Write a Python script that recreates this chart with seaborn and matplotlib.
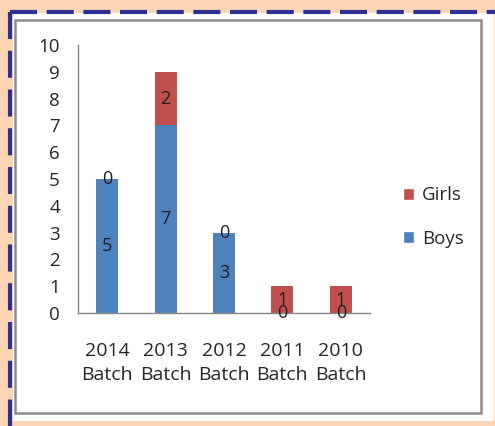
import pandas as pd
import matplotlib
matplotlib.use("Agg")
import matplotlib.pyplot as plt
from matplotlib.lines import Line2D
from matplotlib.patches import Rectangle, Patch
import seaborn as sns

batches = ["2014\nBatch", "2013\nBatch", "2012\nBatch", "2011\nBatch", "2010\nBatch"]
boys = [5, 7, 3, 0, 0]
girls = [0, 2, 0, 1, 1]

df = pd.DataFrame({"batch": batches, "boys": boys, "girls": girls})
df["total"] = df["boys"] + df["girls"]

sns.set_style("white")
plt.rcParams["font.family"] = ["Open Sans", "DejaVu Sans"]

W, H = 495, 426
fig = plt.figure(figsize=(W / 100, H / 100), dpi=100)
fig.patch.set_facecolor("#FCD5B4")

def fx(px):
    return px / W

def fy(py):
    return 1 - py / H

# white card, grey frame and dashed border
fig.patches.append(Rectangle((fx(13), fy(421)), fx(481), 408 / H, transform=fig.transFigure,
                             facecolor="white", edgecolor="none", zorder=-5))
fig.patches.append(Rectangle((fx(15), fy(413)), fx(466), 393 / H, transform=fig.transFigure,
                             facecolor="white", edgecolor="#8C8C8C", linewidth=1.8, zorder=-4))
fig.lines.append(Line2D([fx(10), fx(495)], [fy(12), fy(12)], transform=fig.transFigure,
                        color="#2E3192", linewidth=3, linestyle=(0, (6.5, 2.3))))
fig.lines.append(Line2D([fx(10), fx(10)], [fy(12), fy(426)], transform=fig.transFigure,
                        color="#2E3192", linewidth=3, linestyle=(0, (6.5, 2.8))))

ax = fig.add_axes([fx(78), fy(313), fx(370 - 78), (313 - 45) / H])
ax.set_facecolor("none")

red = "#C0504D"
blue = "#4F81BD"
sns.barplot(data=df, x="batch", y="total", color=red, width=0.38, saturation=1, linewidth=0, ax=ax)
sns.barplot(data=df, x="batch", y="boys", color=blue, width=0.38, saturation=1, linewidth=0, ax=ax)

for i, (b, g) in enumerate(zip(boys, girls)):
    ax.text(i, b / 2, str(b), ha="center", va="center", fontsize=13, color="#1F1F1F")
    ax.text(i, b + g / 2, str(g), ha="center", va="center", fontsize=13, color="#1F1F1F")

ax.set_xlim(-0.5, 4.5)
ax.set_ylim(0, 10)
ax.set_yticks(range(0, 11))
ax.set_xticks([i - 0.5 for i in range(6)], minor=False)
ax.set_xticklabels([])
ax.set_xticks(range(5), minor=True)
ax.set_xticklabels(batches, minor=True, fontsize=14, color="#262626", linespacing=1.4)
ax.tick_params(axis="x", which="minor", length=0, pad=21)
ax.tick_params(axis="x", which="major", length=5, color="#868686", width=1, direction="out")
ax.tick_params(axis="y", length=5, color="#868686", width=1, direction="out", labelsize=13.5,
               labelcolor="#262626", pad=8)
ax.set_xlabel("")
ax.set_ylabel("")
for s in ["top", "right"]:
    ax.spines[s].set_visible(False)
for s in ["left", "bottom"]:
    ax.spines[s].set_color("#868686")
    ax.spines[s].set_linewidth(1)

handles = [Patch(facecolor=red, label="Girls"), Patch(facecolor=blue, label="Boys")]
fig.legend(handles=handles, loc="center left", bbox_to_anchor=(fx(386), fy(217)), frameon=False,
           fontsize=13.5, handlelength=0.6, handleheight=0.6, handletextpad=0.4, labelspacing=1.35,
           labelcolor="#262626")

fig.savefig("out.png", dpi=100, facecolor=fig.get_facecolor())
